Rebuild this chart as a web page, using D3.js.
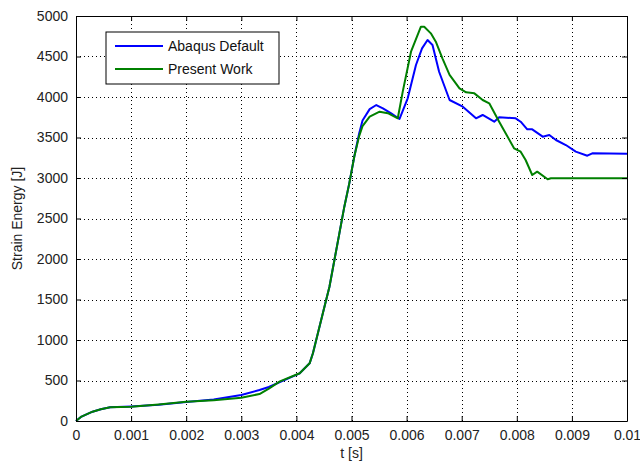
<!DOCTYPE html>
<html>
<head>
<meta charset="utf-8">
<script src="https://cdn.jsdelivr.net/npm/d3@7"></script>
<style>
  body { margin: 0; background: #fff; }
  svg { display: block; font-family: "Liberation Sans", Arial, sans-serif; }
</style>
</head>
<body>
<div id="chart"></div>
<script>
// time [s] and strain energy [J]
var abaqusT = [0, 0.0001, 0.0002, 0.0003, 0.00045, 0.00062, 0.001, 0.0015, 0.002, 0.0025, 0.003, 0.00333, 0.0035,
  0.0037, 0.00406, 0.00424, 0.0043, 0.00439, 0.00448, 0.0046, 0.00469, 0.00478, 0.00487, 0.00496,
  0.00505, 0.00514, 0.0052, 0.00533, 0.00545, 0.00557, 0.00572, 0.00587, 0.00602, 0.00617, 0.00628,
  0.00638, 0.00647, 0.00659, 0.00678, 0.00702, 0.00726, 0.00738, 0.00759, 0.00768, 0.00798, 0.00807,
  0.00819, 0.00828, 0.00847, 0.00859, 0.00871, 0.00889, 0.00907, 0.00928, 0.00937, 0.01];
var abaqusE = [0, 55, 85, 115, 145, 169, 180, 200, 235, 265, 321, 383, 420,
  480, 589, 712, 836, 1083, 1330, 1658, 1988, 2317, 2646, 2934,
  3263, 3552, 3710, 3850, 3901, 3860, 3799, 3728, 3984, 4395, 4600,
  4704, 4642, 4312, 3963, 3880, 3737, 3778, 3695, 3749, 3737, 3695,
  3601, 3601, 3510, 3531, 3469, 3407, 3325, 3275, 3305, 3300];

var presentT = [0, 0.0001, 0.0002, 0.0003, 0.00045, 0.00062, 0.001, 0.0015, 0.002, 0.0025, 0.003, 0.00333, 0.0035,
  0.0037, 0.00406, 0.00424, 0.0043, 0.00439, 0.00448, 0.0046, 0.00469, 0.00478, 0.00487, 0.00496,
  0.00505, 0.00514, 0.0052, 0.00533, 0.00551, 0.00566, 0.00578, 0.00584, 0.00593, 0.00608, 0.00626,
  0.00632, 0.00644, 0.00653, 0.00665, 0.00678, 0.00696, 0.00708, 0.00723, 0.00738, 0.0075, 0.00768,
  0.00795, 0.00807, 0.00816, 0.00828, 0.00837, 0.00856, 0.00862, 0.01];
var presentE = [0, 55, 85, 115, 145, 169, 177, 205, 238, 255, 288, 333, 400,
  490, 589, 712, 836, 1083, 1330, 1658, 1988, 2317, 2646, 2934,
  3263, 3520, 3640, 3757, 3819, 3800, 3757, 3737, 4066, 4559, 4868,
  4868, 4786, 4683, 4477, 4272, 4107, 4058, 4045, 3963, 3922, 3695,
  3367, 3325, 3222, 3037, 3078, 2984, 2996, 2996];

var xTicks = [0, 0.001, 0.002, 0.003, 0.004, 0.005, 0.006, 0.007, 0.008, 0.009, 0.01];
var yTicks = [0, 500, 1000, 1500, 2000, 2500, 3000, 3500, 4000, 4500, 5000];
var seriesNames = ["Abaqus Default", "Present Work"];
var seriesColors = ["#0000ff", "#008000"];

var width = 640, height = 466;
var margin = {left: 76, right: 13, top: 16, bottom: 45};

var svg = d3.select('#chart').append('svg')
    .attr('width', width)
    .attr('height', height);

var x = d3.scaleLinear().domain([0, 0.01]).range([margin.left, width - margin.right]);
var y = d3.scaleLinear().domain([0, 5000]).range([height - margin.bottom, margin.top]);

// dotted grid
var grid = svg.append('g').attr('class', 'grid');
grid.selectAll('line.gx')
    .data(xTicks.slice(1, -1))
  .enter().append('line')
    .attr('class', 'gx')
    .attr('x1', function(d) { return Math.round(x(d)) + 0.5; })
    .attr('x2', function(d) { return Math.round(x(d)) + 0.5; })
    .attr('y1', y(5000))
    .attr('y2', y(0))
    .attr('stroke', '#000')
    .attr('stroke-dasharray', '1,3');
grid.selectAll('line.gy')
    .data(yTicks.slice(1, -1))
  .enter().append('line')
    .attr('class', 'gy')
    .attr('y1', function(d) { return Math.round(y(d)) + 0.5; })
    .attr('y2', function(d) { return Math.round(y(d)) + 0.5; })
    .attr('x1', x(0))
    .attr('x2', x(0.01))
    .attr('stroke', '#000')
    .attr('stroke-dasharray', '1,3');

// series
var series = [
  {name: seriesNames[0], color: seriesColors[0], t: abaqusT, e: abaqusE},
  {name: seriesNames[1], color: seriesColors[1], t: presentT, e: presentE}
];
var line = d3.line()
    .x(function(d) { return x(d[0]); })
    .y(function(d) { return y(d[1]); });

svg.append('g').attr('class', 'lines')
  .selectAll('path')
    .data(series)
  .enter().append('path')
    .attr('d', function(s) { return line(d3.zip(s.t, s.e)); })
    .attr('fill', 'none')
    .attr('stroke', function(s) { return s.color; })
    .attr('stroke-width', 2)
    .attr('stroke-linejoin', 'round');

// axes, ticks pointing inward on all four sides
var fmtX = function(d) { return d === 0 ? '0' : String(+d.toFixed(3)); };
var axisB = d3.axisBottom(x).tickValues(xTicks).tickSizeInner(-5).tickSizeOuter(0).tickPadding(9).tickFormat(fmtX);
var axisT = d3.axisTop(x).tickValues(xTicks).tickSizeInner(-5).tickSizeOuter(0).tickFormat('');
var axisL = d3.axisLeft(y).tickValues(yTicks).tickSizeInner(-5).tickSizeOuter(0).tickPadding(8).tickFormat(d3.format('d'));
var axisR = d3.axisRight(y).tickValues(yTicks).tickSizeInner(-5).tickSizeOuter(0).tickFormat('');

function styleAxis(g) {
  g.selectAll('.domain').attr('stroke', '#000');
  g.selectAll('.tick line').attr('stroke', '#000');
  g.selectAll('.tick text').attr('fill', '#222').attr('font-size', 14)
    .attr('font-family', '"Liberation Sans", Arial, sans-serif');
}
svg.append('g').attr('transform', 'translate(0,' + y(0) + ')').call(axisB).call(styleAxis);
svg.append('g').attr('transform', 'translate(0,' + y(5000) + ')').call(axisT).call(styleAxis);
svg.append('g').attr('transform', 'translate(' + x(0) + ',0)').call(axisL).call(styleAxis);
svg.append('g').attr('transform', 'translate(' + x(0.01) + ',0)').call(axisR).call(styleAxis);

// axis labels
svg.append('text')
    .attr('x', (x(0) + x(0.01)) / 2)
    .attr('y', 458)
    .attr('text-anchor', 'middle')
    .attr('font-size', 14)
    .attr('fill', '#222')
    .text('t [s]');
svg.append('text')
    .attr('transform', 'translate(22,' + ((y(0) + y(5000)) / 2) + ') rotate(-90)')
    .attr('text-anchor', 'middle')
    .attr('font-size', 14)
    .attr('fill', '#222')
    .text('Strain Energy [J]');

// legend
var legend = svg.append('g').attr('transform', 'translate(106,32)');
legend.append('rect')
    .attr('width', 173)
    .attr('height', 52)
    .attr('fill', '#fff')
    .attr('stroke', '#000');
var item = legend.selectAll('g.item')
    .data(series)
  .enter().append('g')
    .attr('class', 'item')
    .attr('transform', function(d, i) { return 'translate(0,' + (14 + i * 23) + ')'; });
item.append('line')
    .attr('x1', 9).attr('x2', 57)
    .attr('stroke', function(d) { return d.color; })
    .attr('stroke-width', 2);
item.append('text')
    .attr('x', 62)
    .attr('dy', '0.35em')
    .attr('font-size', 14)
    .attr('fill', '#111')
    .text(function(d) { return d.name; });
</script>
</body>
</html>
